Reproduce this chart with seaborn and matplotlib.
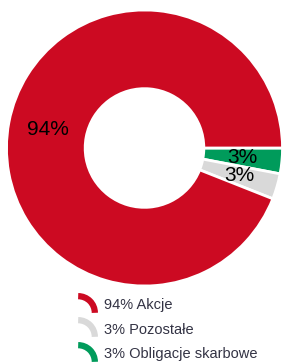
import numpy as np
import matplotlib
matplotlib.use("Agg")
import matplotlib.pyplot as plt
import seaborn as sns
from matplotlib.lines import Line2D
from matplotlib.path import Path

sns.set_theme(style="white")
plt.rcParams['font.family'] = ['Liberation Sans', 'DejaVu Sans']

categories = ["Obligacje skarbowe", "Pozostałe", "Akcje"]
values = [3, 3, 94]
colors = ["#009B5B", "#D9D9D9", "#CC0A22"]
legend_order = [2, 1, 0]

W, H = 283, 362
fig = plt.figure(figsize=(W / 100, H / 100), dpi=100)
cx, cy, R = 144.5, 362 - 148, 138
ax = fig.add_axes([(cx - R) / W, (cy - R) / H, 2 * R / W, 2 * R / H])

wedges, texts, autotexts = ax.pie(
    values, colors=colors, startangle=0, counterclock=False,
    autopct=lambda p: f"{round(p):d}%", pctdistance=0.715,
    wedgeprops=dict(width=0.57, edgecolor="white", linewidth=2),
    textprops=dict(fontsize=15, color="#000000"))
ax.set_xlim(-1, 1)
ax.set_ylim(-1, 1)
ax.set_aspect("equal")
ax.axis("off")

arc = Path.arc(0, 90)
arc_verts = arc.vertices - 0.5
arc_path = Path(arc_verts, arc.codes)

handles = [Line2D([], [], linestyle="none", marker=arc_path, markersize=12,
                  markerfacecolor="none", markeredgecolor=colors[i],
                  markeredgewidth=4.5) for i in legend_order]
labels = [f"{values[i]}% {categories[i]}" for i in legend_order]
leg = fig.legend(handles, labels, loc="upper left",
                 bbox_to_anchor=(74 / W, 1 - 298 / H), frameon=False,
                 fontsize=10.5, labelspacing=0.72, handletextpad=0.45,
                 handlelength=1.6, borderpad=0, borderaxespad=0)
for t in leg.get_texts():
    t.set_color("#333344")

fig.savefig("out.png", dpi=100)
